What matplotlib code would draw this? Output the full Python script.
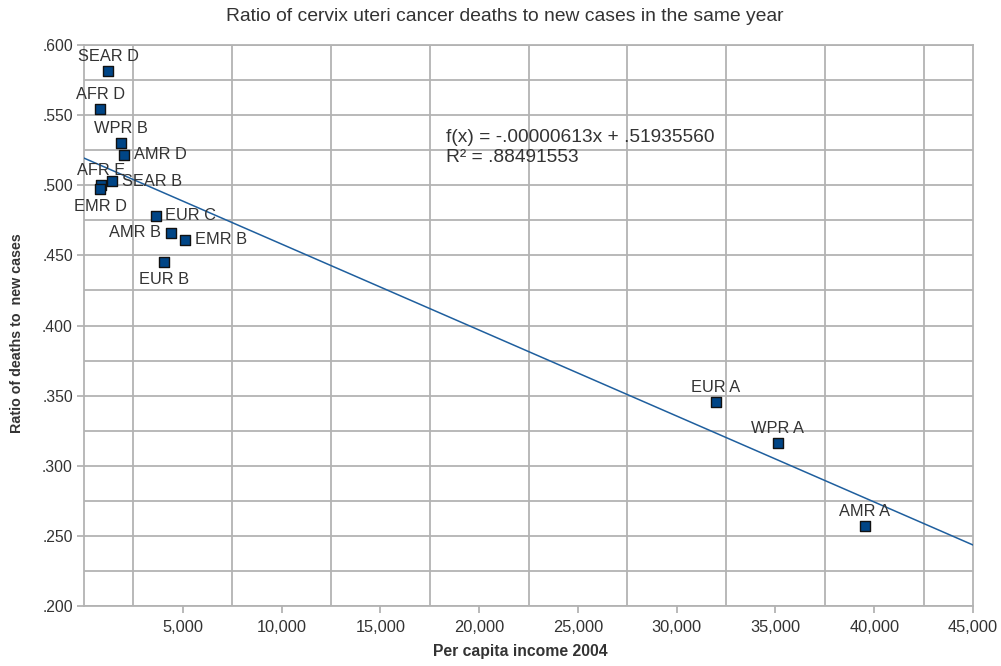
import matplotlib
matplotlib.use("Agg")
import matplotlib.pyplot as plt
import numpy as np

plt.rcParams['font.family'] = ['Liberation Sans', 'DejaVu Sans']

# WHO sub-regions: per capita income (2004) vs deaths / new cases ratio
regions = ["SEAR D", "AFR D", "WPR B", "AMR D", "SEAR B", "AFR E", "EMR D",
           "EUR C", "AMR B", "EMR B", "EUR B", "EUR A", "WPR A", "AMR A"]
income = [1215, 810, 1888, 2024, 1434, 877, 827,
          3627, 4403, 5127, 4049, 31984, 35106, 39524]
ratio = [0.5813, 0.5542, 0.5299, 0.5216, 0.5028, 0.5000, 0.4971,
         0.4781, 0.4660, 0.4612, 0.4451, 0.3455, 0.3164, 0.2570]
label_side = ["top", "top", "top", "right", "right", "top", "bottom",
              "right", "left", "right", "bottom", "top", "top", "top"]

# Linear trend line coefficients
slope = -0.00000613
intercept = 0.51935560
r_squared = 0.88491553

x_major = list(range(5000, 45001, 5000))
x_major_labels = [f"{v:,}" for v in x_major]
y_major = [0.200, 0.250, 0.300, 0.350, 0.400, 0.450, 0.500, 0.550, 0.600]


def no_lead_zero(v, digits):
    s = f"{v:.{digits}f}"
    return s.replace("0.", ".", 1)


fig = plt.figure(figsize=(10.01, 6.66), dpi=100)
ax = fig.add_axes([84/1001, 60/666, (973-84)/1001, (606-45)/666])

grid_c = "#b3b3b3"
text_c = "#333333"

ax.set_xlim(0, 45000)
ax.set_ylim(0.2, 0.6)

ax.set_xticks(x_major)
ax.set_xticklabels(x_major_labels)
ax.set_xticks(np.arange(2500, 45000, 5000), minor=True)
ax.set_yticks(y_major)
ax.set_yticklabels([no_lead_zero(v, 3) for v in y_major])
ax.set_yticks(np.arange(0.225, 0.6, 0.05), minor=True)

ax.grid(False)
ax.xaxis.grid(True, which="minor", color=grid_c, lw=1.3)
ax.yaxis.grid(True, which="both", color=grid_c, lw=1.3)
ax.set_axisbelow(True)

ax.tick_params(axis="both", which="major", color=grid_c, length=5, width=1.3,
               labelsize=11.8, labelcolor=text_c)
ax.tick_params(axis="x", which="major", pad=5)
ax.tick_params(axis="y", which="major", pad=3, labelsize=11.3)
ax.tick_params(axis="both", which="minor", length=0)
for s in ax.spines.values():
    s.set_color(grid_c)
    s.set_linewidth(1.3)

# Trend line
xs = np.array([0, 45000])
ax.plot(xs, slope * xs + intercept, color="#1f5f9e", lw=1.1, zorder=3)

# Data points
ax.scatter(income, ratio, marker="s", s=60, facecolor="#004586",
           edgecolor="#111111", linewidth=1.0, zorder=4)

offsets = {"top": (0, 5, "center", "bottom"),
           "bottom": (0, -7, "center", "top"),
           "right": (7, 0, "left", "center"),
           "left": (-7, 0, "right", "center")}
for name, x, y, side in zip(regions, income, ratio, label_side):
    dx, dy, ha, va = offsets[side]
    ax.annotate(name, (x, y), xytext=(dx, dy), textcoords="offset points",
                ha=ha, va=va, fontsize=11.8, color=text_c, zorder=5)

ax.text(18300, 0.5337,
        f"f(x) = -{no_lead_zero(abs(slope), 8)}x + {no_lead_zero(intercept, 8)}",
        fontsize=13.8, color=text_c, va="center", zorder=5)
ax.text(18300, 0.5195, f"R² = {no_lead_zero(r_squared, 8)}",
        fontsize=13.8, color=text_c, va="center", zorder=5)

fig.text(0.504, 0.975, "Ratio of cervix uteri cancer deaths to new cases in the same year",
         ha="center", va="center", fontsize=13.9, color=text_c)
fig.text(0.52, 0.022, "Per capita income 2004", ha="center", va="center",
         fontsize=11.3, fontweight="bold", color=text_c)
fig.text(0.017, 0.5, "Ratio of deaths to  new cases", ha="center", va="center",
         rotation=90, fontsize=10.3, fontweight="bold", color=text_c)

fig.savefig("out.png", dpi=100, facecolor="white")
